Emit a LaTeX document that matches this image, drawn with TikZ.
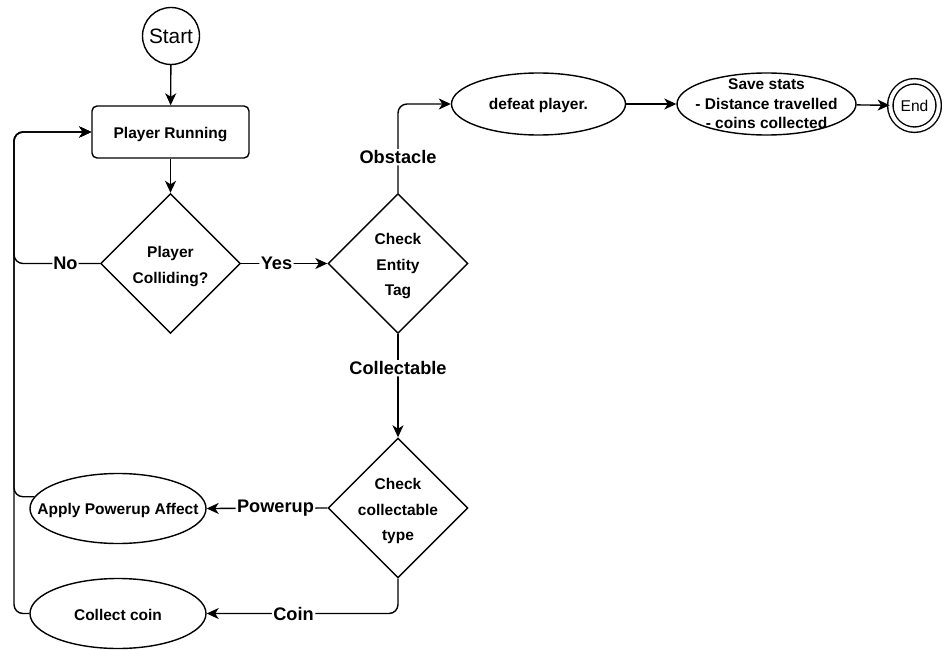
\documentclass[tikz,border=0pt]{standalone}
\usepackage{fontspec}
\setmainfont{Liberation Sans}
\usetikzlibrary{shapes.geometric,arrows.meta}

\tikzset{
  line/.style={line width=1.4pt, rounded corners=9pt},
  arr/.style={line, -{Stealth[length=12pt,width=11pt,inset=3.5pt]}},
  txt/.style={font=\fontsize{15.5}{19.5}\bfseries\selectfont, align=center, inner sep=0pt, yshift=-1.5pt},
  dtxt/.style={font=\fontsize{15.5}{25.5}\bfseries\selectfont, align=center, inner sep=0pt, yshift=-3pt},
  lbl/.style={font=\fontsize{18.2}{20}\bfseries\selectfont, fill=white, inner sep=1.5pt, yshift=0pt},
  proc/.style={draw, line width=1.4pt, rounded corners=5pt, minimum width=157pt, minimum height=52pt, inner sep=0pt},
  dia/.style={draw, line width=1.4pt, diamond, minimum width=140pt, minimum height=140pt, inner sep=0pt},
  ell/.style={draw, line width=1.4pt, ellipse, inner sep=0pt},
  term/.style={draw, line width=1.4pt, circle, inner sep=0pt},
}

\begin{document}
\begin{tikzpicture}[x=1pt, y=-1pt]
  \useasboundingbox (0,0) rectangle (942,650);

  % terminals
  \node[term, minimum size=57pt, font=\fontsize{20.8}{22}\selectfont] (start) at (171,36) {Start};
  \node[term, minimum size=48.4pt, double, double distance=4pt,
        font=\fontsize{15.6}{17}\selectfont] (end) at (914.5,105.5) {End};

  % process and decisions
  \node[proc, label={[txt, yshift=-1pt]center:{Player Running}}] (run) at (170.5,132) {};
  \node[dia, label={[dtxt]center:{Player\\Colliding?}}] (collide) at (170.5,263.5) {};
  \node[dia, label={[dtxt]center:{Check\\Entity\\Tag}}] (tag) at (398,263.5) {};
  \node[dia, label={[dtxt]center:{Check\\collectable\\type}}] (ctype) at (398,508) {};

  % outcomes
  \node[ell, minimum width=174pt, minimum height=62pt, label={[txt]center:{defeat player.}}] (defeat) at (538.5,104) {};
  \node[ell, minimum width=179pt, minimum height=62pt,
        label={[txt, yshift=1.5pt]center:{Save stats\\- Distance travelled\\- coins collected}}] (save) at (766.5,104) {};
  \node[ell, minimum width=176pt, minimum height=70pt, label={[txt]center:{Apply Powerup Affect}}] (apply) at (118,508.5) {};
  \node[ell, minimum width=176pt, minimum height=70pt, label={[txt]center:{Collect coin}}] (coin) at (118,613.5) {};

  % main flow
  \draw[arr] (start) -- (run);
  \draw[arr] (run) -- (collide);
  \draw[arr] (collide.east) -- node[lbl, pos=0.41] {Yes} (tag.west);
  \draw[arr] (tag.north) |- node[lbl, pos=0.2] {Obstacle} (defeat.west);
  \draw[arr] (defeat) -- (save);
  \draw[arr] (save) -- (end);
  \draw[arr] (tag.south) -- node[lbl, pos=0.33] {Collectable} (ctype.north);
  \draw[arr] (ctype.west) -- node[lbl, pos=0.43] {Powerup} (apply.east);
  \draw[arr] (ctype.south) |- node[lbl, pos=0.773] {Coin} (coin.east);

  % loops back to the running state
  \coordinate (rail) at (14,0);
  \draw[arr] (collide.west) -- node[lbl, pos=0.4, inner sep=1pt] {No} (collide.west -| rail) |- (run.west);
  \draw[arr] (apply.172) -- (apply.172 -| rail) |- (run.west);
  \draw[arr] (coin.west) -- (coin.west -| rail) |- (run.west);
\end{tikzpicture}
\end{document}
